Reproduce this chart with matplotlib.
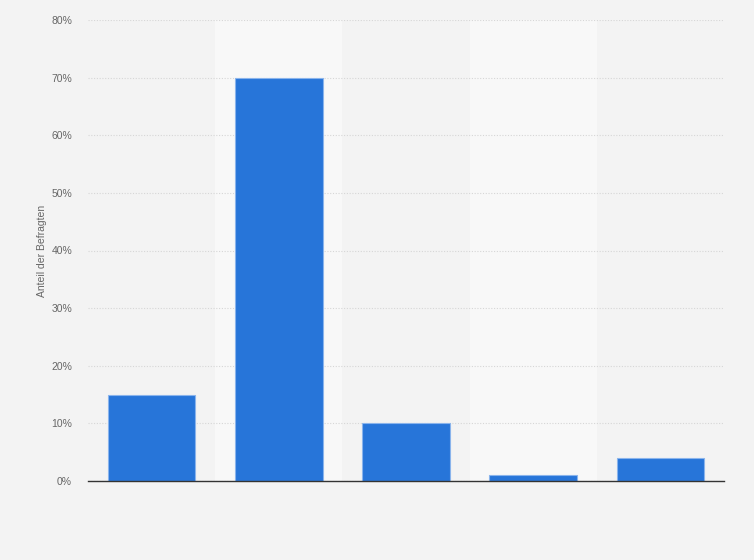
import matplotlib.pyplot as plt
import numpy as np

plt.rcParams['font.family'] = ['Liberation Sans', 'DejaVu Sans']

# data (no category labels shown in the chart)
categories = ['A', 'B', 'C', 'D', 'E']
shares = [15, 70, 10, 1, 4]
y_ticks = [0, 10, 20, 30, 40, 50, 60, 70, 80]
y_labels = [f'{t}%' for t in y_ticks]

fig = plt.figure(figsize=(7.54, 5.6), dpi=100)
fig.patch.set_facecolor('#f3f3f3')
ax = fig.add_axes([88 / 754, 1 - 481 / 560, 636 / 754, 461 / 560])
ax.set_facecolor('#f3f3f3')

x = np.arange(len(categories))

# alternating light bands
for i in x:
    if i % 2 == 1:
        ax.axvspan(i - 0.5, i + 0.5, color='#f8f8f8', zorder=0, lw=0)

ax.bar(x, shares, width=0.69, color='#2775d9', edgecolor='#8ab4ec',
       linewidth=0.8, zorder=3)

ax.set_xlim(-0.5, len(categories) - 0.5)
ax.set_ylim(0, 80)
ax.set_yticks(y_ticks)
ax.set_yticklabels(y_labels)
ax.set_xticks([])

ax.grid(axis='y', color='#d6d6d6', linestyle=(0, (1, 1.5)), linewidth=0.8, zorder=1)
ax.tick_params(axis='y', length=0, pad=11.5, labelsize=7.5, labelcolor='#666666')

for s in ['top', 'right', 'left']:
    ax.spines[s].set_visible(False)
ax.spines['bottom'].set_color('#333333')
ax.spines['bottom'].set_linewidth(1.0)
ax.spines['bottom'].set_zorder(4)

ax.set_ylabel('Anteil der Befragten', fontsize=7.5, color='#666666')
ax.yaxis.set_label_coords(-0.064, 0.5)

fig.savefig('out.png', dpi=100, facecolor=fig.get_facecolor())
